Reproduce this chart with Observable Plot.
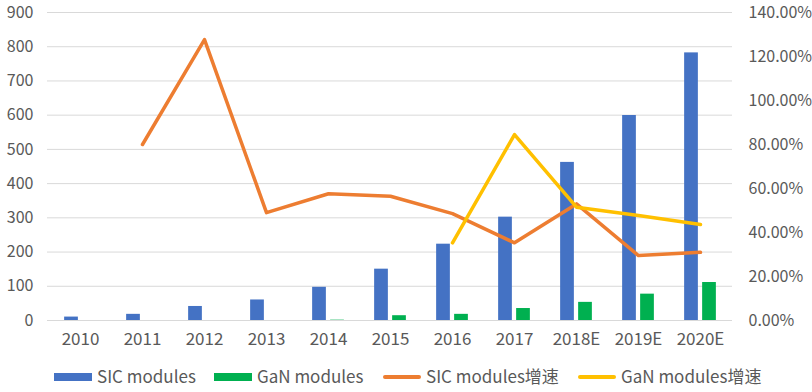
<!DOCTYPE html>
<html>
<head>
<meta charset="utf-8">
<script src="https://cdn.jsdelivr.net/npm/d3@7"></script>
<script src="https://cdn.jsdelivr.net/npm/@observablehq/plot@0.6"></script>
<style>
  html, body { margin: 0; padding: 0; background: #fff; }
  #wrap { position: relative; width: 812px; height: 392px; font-family: 'Noto Sans CJK SC', sans-serif; color: #595959; }
  #legend { position: absolute; left: 0; top: 352px; width: 812px; height: 40px; }
  .sw { position: absolute; }
  .lt { position: absolute; font-size: 17px; line-height: 20px; white-space: nowrap; }
</style>
</head>
<body>
<div id="wrap">
  <div id="chart"></div>
  <div id="legend"></div>
</div>
<script>
const years = ["2010","2011","2012","2013","2014","2015","2016","2017","2018E","2019E","2020E"];
const sicModules = [10, 18, 41, 60, 97, 150, 223, 302, 462, 599, 782];
const ganModules = [null, null, null, null, 1, 14, 18, 35, 53, 77, 111];
const sicGrowth = [null, 0.80, 1.277, 0.49, 0.576, 0.565, 0.486, 0.353, 0.53, 0.295, 0.31];
const ganGrowth = [null, null, null, null, null, null, 0.353, 0.845, 0.515, 0.477, 0.436];
const leftTicks = [0, 100, 200, 300, 400, 500, 600, 700, 800, 900];
const pctTicks = [0, 0.2, 0.4, 0.6, 0.8, 1.0, 1.2, 1.4];
const seriesNames = ["SIC modules", "GaN modules", "SIC modules增速", "GaN modules增速"];
const colors = ["#4472C4", "#00B050", "#ED7D31", "#FFC000"];

const ratio = 900 / 1.4; // right-axis (percent) to left-axis units
const sicData = years.map((y, i) => ({year: y, value: sicModules[i]}));
const ganData = years.map((y, i) => ({year: y, value: ganModules[i]})).filter(d => d.value != null);
const sicG = years.map((y, i) => ({year: y, value: sicGrowth[i]})).filter(d => d.value != null);
const ganG = years.map((y, i) => ({year: y, value: ganGrowth[i]})).filter(d => d.value != null);

const W = 812, mL = 47, mR = 80;
const step = (W - mL - mR) / years.length;
const half = step / 2;

const chart = Plot.plot({
  width: W,
  height: 352,
  marginTop: 12,
  marginBottom: 32,
  marginLeft: mL,
  marginRight: mR,
  x: {domain: years, padding: 0, label: null},
  y: {domain: [0, 900], label: null},
  style: {fontFamily: "'Noto Sans CJK SC', sans-serif", fontSize: "16px", color: "#595959", background: "white", overflow: "visible"},
  marks: [
    Plot.ruleY(leftTicks, {stroke: "#d9d9d9", strokeWidth: 1}),
    Plot.axisY({ticks: leftTicks, tickSize: 0, tickPadding: 14, label: null}),
    Plot.axisY({ticks: pctTicks.map(p => p * ratio), anchor: "right", tickSize: 0, tickPadding: 16, label: null,
      tickFormat: d => (d / ratio * 100).toFixed(2) + "%"}),
    Plot.axisX({tickSize: 0, tickPadding: 12, label: null, fontSize: 17}),
    Plot.barY(sicData, {x: "year", y: "value", fill: colors[0], insetLeft: half - 16, insetRight: half + 2}),
    Plot.barY(ganData, {x: "year", y: "value", fill: colors[1], insetLeft: half + 2, insetRight: half - 16}),
    Plot.line(sicG, {x: "year", y: d => d.value * ratio, stroke: colors[2], strokeWidth: 3.5, strokeLinejoin: "round", strokeLinecap: "round"}),
    Plot.line(ganG, {x: "year", y: d => d.value * ratio, stroke: colors[3], strokeWidth: 3.5, strokeLinejoin: "round", strokeLinecap: "round"})
  ]
});
document.getElementById("chart").appendChild(chart);

// legend
const legend = document.getElementById("legend");
const items = [
  {sx: 54, tx: 97, type: "bar"},
  {sx: 214, tx: 257, type: "bar"},
  {sx: 383, tx: 426, type: "line"},
  {sx: 578, tx: 621, type: "line"}
];
items.forEach((it, i) => {
  const sw = document.createElement("div");
  sw.className = "sw";
  sw.style.left = it.sx + "px";
  sw.style.width = "38px";
  sw.style.background = colors[i];
  if (it.type === "bar") { sw.style.top = "21px"; sw.style.height = "8px"; }
  else { sw.style.top = "23px"; sw.style.height = "4px"; sw.style.borderRadius = "2px"; }
  legend.appendChild(sw);
  const t = document.createElement("div");
  t.className = "lt";
  t.style.left = it.tx + "px";
  t.style.top = "14px";
  t.textContent = seriesNames[i];
  legend.appendChild(t);
});
</script>
</body>
</html>
